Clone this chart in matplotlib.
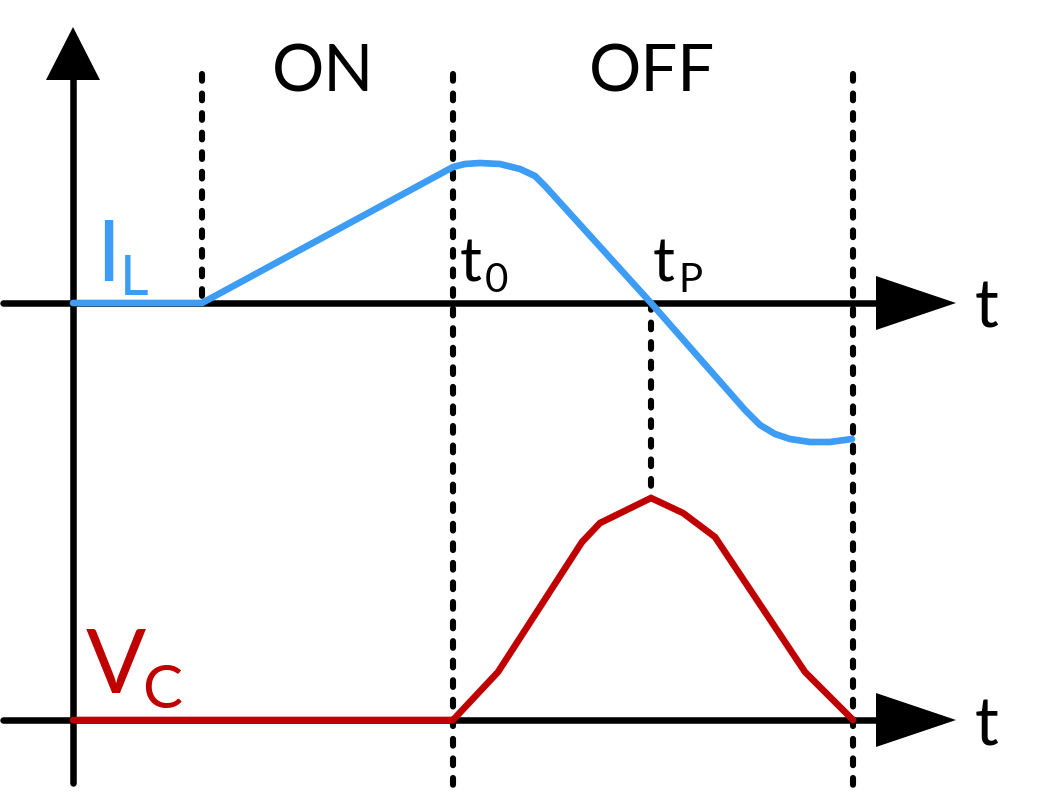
import matplotlib.pyplot as plt
import numpy as np

# canvas in pixel units (y grows downward, like the picture)
W, H = 1038, 800

# axis geometry
y_axis_x = 73
il_axis_y = 303
vc_axis_y = 720
axis_left = 3
axis_right = 876        # where the arrowheads start
arrow_len = 80
arrow_half = 27
y_axis_bottom = 783
y_axis_top = 80

# switching instants (dotted markers)
t_on = 202
t_0 = 453
t_p = 651
t_end = 853

# inductor current I_L (pixel coords)
il_x = [73, 202, 453, 465, 480, 500, 520, 535, 545, 651, 745, 760, 775, 790, 810, 830, 852]
il_y = [303, 303, 167, 164, 163, 164, 169, 176, 186, 303, 410, 425, 434, 439, 442, 442, 439]

# capacitor voltage V_C
vc_x = [73, 453, 498, 582, 600, 651, 683, 715, 805, 853]
vc_y = [720, 720, 672, 542, 523, 498, 513, 537, 672, 720]

blue = '#3d9cf3'
red = '#c00000'
font = ['Lato', 'DejaVu Sans']

fig = plt.figure(figsize=(W / 100, H / 100), dpi=100)
ax = fig.add_axes([0, 0, 1, 1])
ax.set_xlim(0, W)
ax.set_ylim(H, 0)
ax.axis('off')

lw_axis = 4.7
lw_curve = 4.8
dot_style = dict(color='black', lw=4.4, linestyle=(0, (1.1, 2.1)), dash_capstyle='round', zorder=2)

# axes
ax.plot([y_axis_x, y_axis_x], [y_axis_bottom, y_axis_top], color='black', lw=lw_axis,
        solid_capstyle='round', zorder=1)
ax.fill([y_axis_x - arrow_half, y_axis_x + arrow_half, y_axis_x],
        [y_axis_top, y_axis_top, y_axis_top - arrow_len + 27], color='black', lw=0, zorder=1)
for ya in (il_axis_y, vc_axis_y):
    ax.plot([axis_left, axis_right], [ya, ya], color='black', lw=lw_axis,
            solid_capstyle='round', zorder=1)
    ax.fill([axis_right, axis_right, axis_right + arrow_len],
            [ya - arrow_half, ya + arrow_half, ya], color='black', lw=0, zorder=1)
    ax.text(975, ya + 25, 't', fontsize=48, family=font, color='black', ha='left', va='baseline')

# dotted time markers
ax.plot([t_on, t_on], [74, il_axis_y], **dot_style)
ax.plot([t_0, t_0], [74, 790], **dot_style)
ax.plot([t_end, t_end], [74, 790], **dot_style)
ax.plot([t_p, t_p], [il_axis_y, 498], **dot_style)

# waveforms
ax.plot(il_x, il_y, color=blue, lw=lw_curve, solid_capstyle='round', solid_joinstyle='round', zorder=3)
ax.plot(vc_x, vc_y, color=red, lw=lw_curve, solid_capstyle='round', solid_joinstyle='miter', zorder=3)

# labels
ax.text(323, 92, 'ON', fontsize=47, family=font, ha='center', va='baseline')
ax.text(652, 92, 'OFF', fontsize=47, family=font, ha='center', va='baseline')

ax.text(460, 282, 't', fontsize=44, family=font, ha='left', va='baseline')
ax.text(485, 292, '0', fontsize=29, family=font, ha='left', va='baseline')
ax.text(653, 282, 't', fontsize=44, family=font, ha='left', va='baseline')
ax.text(678, 292, 'P', fontsize=29, family=font, ha='left', va='baseline')

ax.text(96, 281, 'I', fontsize=62, family=font, color=blue, ha='left', va='baseline')
ax.text(120, 295, 'L', fontsize=40, family=font, color=blue, ha='left', va='baseline')
ax.text(86, 693, 'V', fontsize=64, family=font, color=red, ha='left', va='baseline')
ax.text(142, 708, 'C', fontsize=43, family=font, color=red, ha='left', va='baseline')

fig.savefig('out.png', dpi=100)
